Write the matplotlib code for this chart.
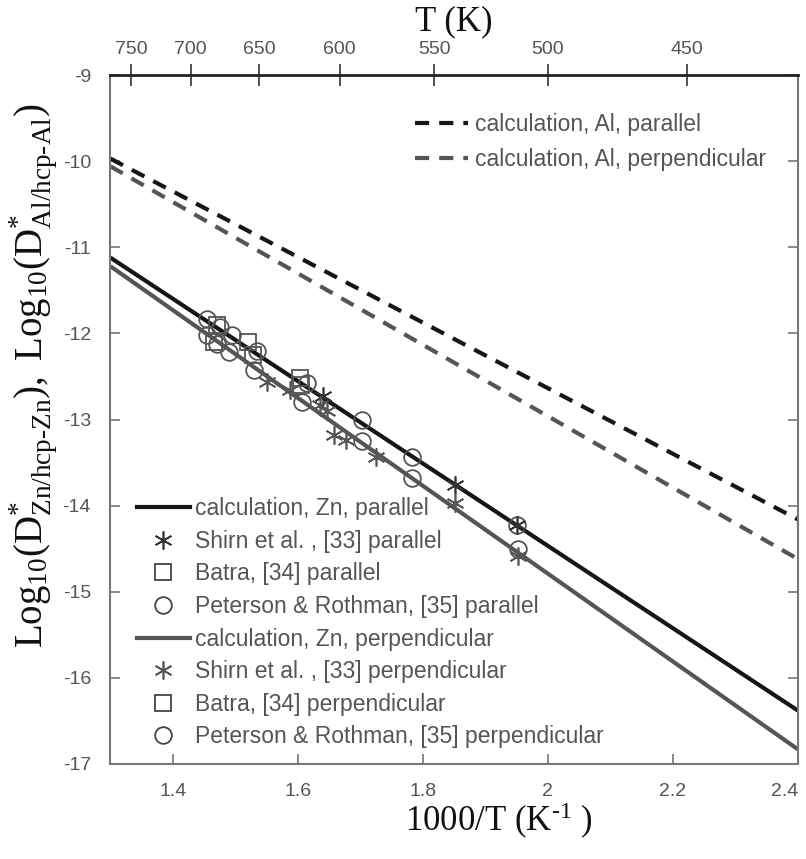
import numpy as np
import matplotlib
matplotlib.use('Agg')
import matplotlib.pyplot as plt
from matplotlib.lines import Line2D

# calculated lines, endpoints at 1000/T = 1.3 and 2.4
x_ends = [1.3, 2.4]
al_par = [-9.97, -14.16]
al_perp = [-10.06, -14.62]
zn_par = [-11.12, -16.38]
zn_perp = [-11.22, -16.83]

# Peterson & Rothman [35]
pr_par_x = [1.455, 1.475, 1.495, 1.535, 1.614, 1.703, 1.783, 1.95]
pr_par_y = [-11.83, -11.93, -12.02, -12.2, -12.58, -13.0, -13.44, -14.22]
pr_perp_x = [1.455, 1.47, 1.49, 1.53, 1.606, 1.703, 1.783, 1.952]
pr_perp_y = [-12.02, -12.12, -12.22, -12.42, -12.8, -13.25, -13.68, -14.5]

# Batra [34]
ba_par_x = [1.47, 1.52, 1.603]
ba_par_y = [-11.9, -12.1, -12.52]
ba_perp_x = [1.465, 1.528, 1.605]
ba_perp_y = [-12.1, -12.25, -12.6]

# Shirn et al. [33]
sh_par_x = [1.64, 1.851, 1.95]
sh_par_y = [-12.73, -13.76, -14.23]
sh_perp_x = [1.55, 1.587, 1.635, 1.646, 1.657, 1.677, 1.725, 1.851, 1.952]
sh_perp_y = [-12.56, -12.66, -12.83, -12.9, -13.18, -13.24, -13.44, -13.97, -14.58]

x_ticks = [1.4, 1.6, 1.8, 2.0, 2.2, 2.4]
x_tick_labels = ['1.4', '1.6', '1.8', '2', '2.2', '2.4']
y_ticks = [-17, -16, -15, -14, -13, -12, -11, -10, -9]
t_ticks = [750, 700, 650, 600, 550, 500, 450]

DARK = '#161616'
GREY = '#555555'
TXT = '#555555'
SERIF = 'Liberation Serif'

plt.rcParams['font.family'] = ['Liberation Sans', 'DejaVu Sans']
plt.rcParams['axes.unicode_minus'] = False
plt.rcParams['mathtext.fontset'] = 'custom'
plt.rcParams['mathtext.rm'] = SERIF
plt.rcParams['mathtext.it'] = SERIF + ':italic'

fig = plt.figure(figsize=(8.06, 8.59), dpi=100)
ax = fig.add_axes([0.137, 0.1106, 0.853, 0.802])

ax.plot(x_ends, al_par, color=DARK, lw=3, dashes=(3.4, 2.4), label='calculation, Al, parallel')
ax.plot(x_ends, al_perp, color=GREY, lw=3, dashes=(3.4, 2.4), label='calculation, Al, perpendicular')
ax.plot(x_ends, zn_par, color=DARK, lw=3, solid_capstyle='butt')
ax.plot(x_ends, zn_perp, color=GREY, lw=3, solid_capstyle='butt')

mk = dict(linestyle='none', markerfacecolor='none', markeredgewidth=1.3)
ax.plot(pr_par_x, pr_par_y, marker='o', markersize=12, markeredgecolor=GREY, **mk)
ax.plot(pr_perp_x, pr_perp_y, marker='o', markersize=12, markeredgecolor=GREY, **mk)
ax.plot(ba_par_x, ba_par_y, marker='s', markersize=11, markeredgecolor=GREY, **mk)
ax.plot(ba_perp_x, ba_perp_y, marker='s', markersize=11, markeredgecolor=GREY, **mk)
sk = dict(linestyle='none', marker=(6, 2, 0), markersize=13, markeredgewidth=1.2)
ax.plot(sh_par_x, sh_par_y, markeredgecolor='#333333', **sk)
ax.plot(sh_perp_x, sh_perp_y, markeredgecolor=GREY, **sk)

ax.set_xlim(1.3, 2.4)
ax.set_ylim(-17, -9)
ax.set_xticks(x_ticks)
ax.set_xticklabels(x_tick_labels)
ax.get_xticklabels()[-1].set_ha('right')
ax.set_yticks(y_ticks)
ax.tick_params(axis='both', direction='in', length=7, width=1.2, colors='#777777',
               labelcolor=TXT, labelsize=14, pad=14, right=True)
for side in ['left', 'bottom', 'right']:
    ax.spines[side].set_color('#777777')
    ax.spines[side].set_linewidth(1.5)
ax.spines['top'].set_color('#222222')
ax.spines['top'].set_linewidth(2)

top = ax.secondary_xaxis('top', functions=(lambda x: 1000 / x, lambda t: 1000 / t))
top.set_xticks(t_ticks)
top.tick_params(direction='inout', length=16, width=1.2, colors='#333333',
                labelcolor=TXT, labelsize=14, pad=4)
top.spines['top'].set_visible(False)
top.set_xlabel('T (K)', fontsize=25, family=SERIF, color='#111111', labelpad=8)

ax.set_xlabel(r'1000/T (K$^{\text{-}1}$ )', fontsize=25, family=SERIF, color='#111111')
ax.xaxis.set_label_coords(0.565, -0.054)
ax.set_ylabel(r'$\mathrm{Log_{10}(D^{*}_{Zn/hcp\text{-}Zn}),\ Log_{10}(D^{*}_{Al/hcp\text{-}Al})}$',
              fontsize=28, color='#111111')
ax.yaxis.set_label_coords(-0.073, 0.563)

leg1 = ax.legend(loc='upper left', bbox_to_anchor=(0.443, 0.945), frameon=False,
                 fontsize=16.5, handlelength=2.3, handletextpad=0.3, labelspacing=0.53,
                 borderpad=0, borderaxespad=0, labelcolor=TXT)
ax.add_artist(leg1)

handles = [
    Line2D([], [], color=DARK, lw=3),
    Line2D([], [], markeredgecolor='#333333', **sk),
    Line2D([], [], marker='s', markersize=11, markeredgecolor='#444444', **mk),
    Line2D([], [], marker='o', markersize=12, markeredgecolor='#444444', **mk),
    Line2D([], [], color=GREY, lw=3),
    Line2D([], [], markeredgecolor=GREY, **sk),
    Line2D([], [], marker='s', markersize=11, markeredgecolor='#444444', **mk),
    Line2D([], [], marker='o', markersize=12, markeredgecolor='#444444', **mk),
]
labels = [
    'calculation, Zn, parallel',
    'Shirn et al. , [33] parallel',
    'Batra, [34] parallel',
    'Peterson & Rothman, [35] parallel',
    'calculation, Zn, perpendicular',
    'Shirn et al. , [33] perpendicular',
    'Batra, [34] perpendicular',
    'Peterson & Rothman, [35] perpendicular',
]
ax.legend(handles, labels, loc='upper left', bbox_to_anchor=(0.0385, 0.3875), frameon=False,
          fontsize=16.5, handlelength=2.3, handletextpad=0.25, labelspacing=0.42,
          borderpad=0, borderaxespad=0, labelcolor=TXT)

fig.savefig('out.png', dpi=100)
